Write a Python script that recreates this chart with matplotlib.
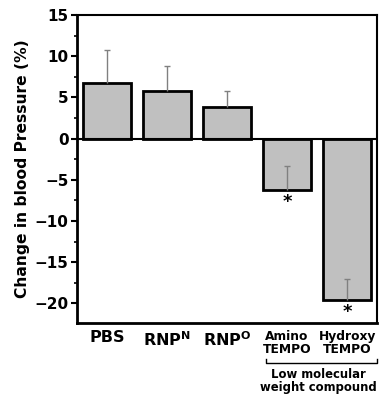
import numpy as np
import matplotlib.pyplot as plt
from matplotlib.ticker import MultipleLocator
import matplotlib.transforms as mtransforms

groups = ['PBS', 'RNP$^{\\mathbf{N}}$', 'RNP$^{\\mathbf{O}}$', 'Amino\nTEMPO', 'Hydroxy\nTEMPO']
label_sizes = [11.5, 11.5, 11.5, 8.8, 8.8]
change = [6.8, 5.8, 3.8, -6.2, -19.6]
err_up = [4.0, 3.0, 2.0, 2.9, 2.6]
significant = [False, False, False, True, True]

plt.rcParams['font.family'] = ['DejaVu Sans']
plt.rcParams['font.weight'] = 'bold'
plt.rcParams['mathtext.default'] = 'bf'

fig = plt.figure(figsize=(3.79, 3.96), dpi=100)
ax = fig.add_axes([0.203, 0.184, 0.792, 0.778])

x = np.arange(len(groups))
change = np.array(change)
err_up = np.array(err_up)
ax.bar(x, change, width=0.8, color='#c0c0c0', edgecolor='black', linewidth=2, zorder=2)
# one-sided error bars, upper end only
ax.vlines(x, change, change + err_up, color='#808080', linewidth=1, zorder=3)
ax.plot(x, change + err_up, linestyle='none', marker='_', markersize=5,
        markeredgewidth=1, color='#808080', zorder=3)
ax.axhline(0, color='black', linewidth=1.5, zorder=4)

for xi, v, s in zip(x, change, significant):
    if s:
        ax.text(xi, v - 0.4, '*', ha='center', va='top', fontsize=13, fontweight='bold')

ax.set_xlim(-0.5, 4.5)
ax.set_ylim(-22.4, 15)
ax.yaxis.set_major_locator(MultipleLocator(5))
ax.yaxis.set_minor_locator(MultipleLocator(2.5))
ax.tick_params(axis='y', which='major', direction='out', length=4, width=1.5, labelsize=11, pad=2)
ax.tick_params(axis='y', which='minor', direction='out', length=2, width=1.2)
ax.tick_params(axis='x', length=0, pad=5)
ax.set_xticks(x)
ax.set_xticklabels(groups)
for lbl, fs in zip(ax.get_xticklabels(), label_sizes):
    lbl.set_fontsize(fs)
    lbl.set_fontweight('bold')
    lbl.set_linespacing(1.0)
for lbl in ax.get_yticklabels():
    lbl.set_fontweight('bold')

for side in ['left', 'bottom']:
    ax.spines[side].set_linewidth(2)
for side in ['top', 'right']:
    ax.spines[side].set_linewidth(1.5)

ax.set_ylabel('Change in blood Pressure (%)', fontsize=11.2, fontweight='bold', labelpad=3)

# bracket under the low molecular weight compounds
trans = mtransforms.blended_transform_factory(ax.transData, ax.transAxes)
bx0, bx1, by = 2.65, 4.5, -0.13
ax.plot([bx0, bx0, bx1, bx1], [by + 0.013, by, by, by + 0.013], color='black',
        linewidth=1, transform=trans, clip_on=False)
ax.text(3.53, by - 0.015, 'Low molecular\nweight compound', transform=trans,
        ha='center', va='top', fontsize=8.4, fontweight='bold', linespacing=1.0)

fig.savefig('out.png', dpi=100)
